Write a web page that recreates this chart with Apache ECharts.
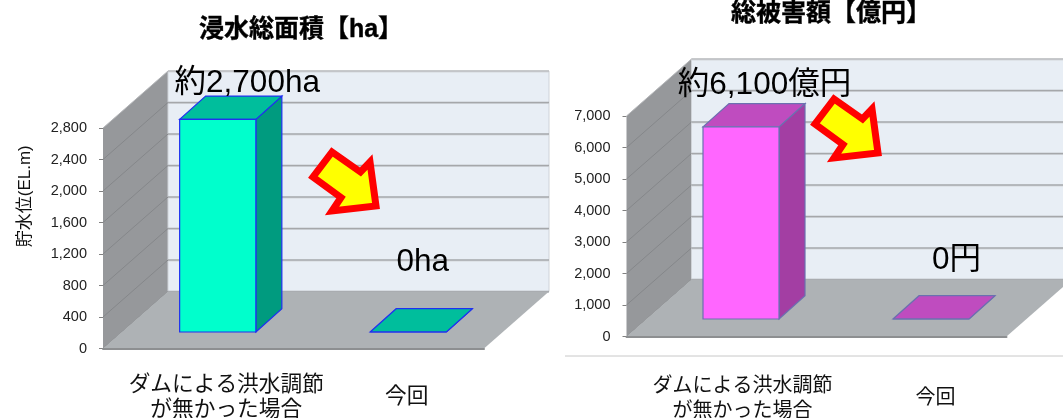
<!DOCTYPE html>
<html><head><meta charset="utf-8">
<style>html,body{margin:0;padding:0;background:#fff}#c{width:1063px;height:418px}</style>
<script src="https://cdn.jsdelivr.net/npm/echarts@6/dist/echarts.min.js"></script>
</head><body><div id="c"></div>
<script>
const categories = ['ダムによる洪水調節\nが無かった場合', '今回'];
const areaValues = [2700, 0];
const damageValues = [6100, 0];
const areaTicks = [0, 400, 800, 1200, 1600, 2000, 2400, 2800];
const damageTicks = [0, 1000, 2000, 3000, 4000, 5000, 6000, 7000];
const areaLabels = ['約2,700ha', '0ha'];
const damageLabels = ['約6,100億円', '0円'];
const areaTitle = '浸水総面積【ha】';
const damageTitle = '総被害額【億円】';
const yAxisName = '貯水位(EL.m)';

const FONT = '"Liberation Sans","Noto Sans CJK JP",sans-serif';
const WALL = {dx: 65, dy: -57}, BAR = {dx: 26, dy: -23.3}, OFFSET_X = 19.5;
const chart = echarts.init(document.getElementById('c'), null, {renderer: 'canvas'});
const pts = a => a.map(p => [p[0], p[1]]);

function poly(points, fill, stroke, lw) {
  return {type: 'polygon', shape: {points: pts(points)}, style: {fill, stroke: stroke || null, lineWidth: lw || 0, lineJoin: 'miter'}};
}

const wallsItem = (params) => {
  const c = params.coordSys, x0 = c.x, x1 = c.x + c.width, yT = c.y, yB = c.y + c.height;
  const d = WALL;
  return {type: 'group', children: [
    poly([[x0, yB], [x0 + d.dx, yB + d.dy], [x0 + d.dx, yT + d.dy], [x0, yT]], '#96989b'),
    poly([[x0 + d.dx, yB + d.dy], [x1 + d.dx, yB + d.dy], [x1 + d.dx, yT + d.dy], [x0 + d.dx, yT + d.dy]], '#e8eef5', '#cfd3d8', 1)
  ]};
};
const c_max = (params) => params.seriesName === 'grid0' ? areaTicks[areaTicks.length - 1] : damageTicks[damageTicks.length - 1];
const gridItem = (params, api) => {
  const c = params.coordSys, v = api.value(1), y = api.coord([0, v])[1];
  const x0 = c.x, x1 = c.x + c.width, d = WALL;
  const top = v === c_max(params);
  return {type: 'group', children: [
    {type: 'line', shape: {x1: x0, y1: y, x2: x0 + d.dx, y2: y + d.dy}, style: {stroke: top ? '#b4b6b9' : '#85878a', lineWidth: 1}},
    {type: 'line', shape: {x1: x0 + d.dx, y1: y + d.dy + 1, x2: x1 + d.dx, y2: y + d.dy + 1}, style: {stroke: '#d3d7dc', lineWidth: 1}},
    {type: 'line', shape: {x1: x0 + d.dx, y1: y + d.dy, x2: x1 + d.dx, y2: y + d.dy}, style: {stroke: top ? '#bcbec1' : '#a5a7aa', lineWidth: 1.4}}
  ]};
};
const floorItem = (params) => {
  const c = params.coordSys, x0 = c.x, x1 = c.x + c.width, yB = c.y + c.height, d = WALL;
  return poly([[x0, yB], [x1, yB], [x1 + d.dx, yB + d.dy], [x0 + d.dx, yB + d.dy]], '#aeb2b5');
};
function barItem(colors, stroke, offsetY) {
  return (params, api) => {
    const idx = api.value(0), val = api.value(1);
    const band = api.size([1, 0])[0], w = band / 2.5;
    const cx = api.coord([idx, 0])[0] + OFFSET_X;
    const yB = api.coord([idx, 0])[1] + offsetY, yT = api.coord([idx, val])[1] + offsetY;
    const xL = cx - w / 2, xR = cx + w / 2, b = BAR;
    return {type: 'group', children: [
      poly([[xR, yB], [xR + b.dx, yB + b.dy], [xR + b.dx, yT + b.dy], [xR, yT]], colors.side, stroke, 1.2),
      poly([[xL, yT], [xR, yT], [xR + b.dx, yT + b.dy], [xL + b.dx, yT + b.dy]], colors.top, stroke, 1.2),
      poly([[xL, yB], [xR, yB], [xR, yT], [xL, yT]], colors.front, stroke, 1.2)
    ]};
  };
}
function labelItem(labels, offsets) {
  return (params, api) => {
    const idx = api.value(0), val = api.value(1), p = api.coord([idx, val]);
    return {type: 'text', style: {text: labels[idx], x: p[0] + offsets[idx][0], y: p[1] + offsets[idx][1],
      font: '31.5px ' + FONT, fill: '#000', align: 'center', verticalAlign: 'middle'}};
  };
}

function panel(i, ticks, values, labels, offsets, colors, stroke, offsetY) {
  const common = {type: 'custom', xAxisIndex: i, yAxisIndex: i, silent: true, animation: false, clip: false, encode: {x: 0, y: 1}};
  return [
    {...common, name: 'walls' + i, z: 1, data: [[0, 0]], renderItem: wallsItem},
    {...common, name: 'grid' + i, z: 2, data: ticks.map(t => [0, t]), renderItem: gridItem},
    {...common, name: 'floor' + i, z: 3, data: [[0, 0]], renderItem: floorItem},
    {...common, name: 'bars' + i, z: 4, data: values.map((v, k) => [k, v]), renderItem: barItem(colors, stroke, offsetY)},
    {...common, name: 'labels' + i, z: 8, data: values.map((v, k) => [k, v]), renderItem: labelItem(labels, offsets)}
  ];
}
function xAxis(i, shifts, margin, size) {
  return {type: 'category', gridIndex: i, z: 5,
    data: categories.map((c, k) => ({value: c, textStyle: {padding: shifts[k]}})),
    axisTick: {show: false}, axisLine: {lineStyle: {color: '#8d8f91', width: 2}},
    axisLabel: {interval: 0, margin, fontFamily: FONT, fontSize: size, color: '#111', lineHeight: 25, verticalAlign: 'top'}};
}
function yAxis(i, ticks, name) {
  return {type: 'value', gridIndex: i, min: ticks[0], max: ticks[ticks.length - 1], interval: ticks[1] - ticks[0],
    name, nameLocation: 'middle', nameGap: 69, nameTextStyle: {fontFamily: FONT, fontSize: 17, color: '#111', padding: [0, 0, 0, 84]},
    splitLine: {show: false}, axisLine: {show: false},
    axisTick: {show: true, length: 4, lineStyle: {color: '#808080'}},
    axisLabel: {margin: 16, fontFamily: FONT, fontSize: 14.5, color: '#222',
      formatter: v => v.toLocaleString('en-US')}};
}

const arrowPts = [[332, 152], [313, 177], [341, 197.5], [332, 211], [376, 206], [370, 162], [360.5, 172]];
const arrow = (tx, ty) => ({type: 'polygon', x: tx, y: ty, z: 20, silent: true, shape: {points: arrowPts},
  style: {fill: '#ffff00', stroke: '#ff0000', lineWidth: 7, lineJoin: 'miter', miterLimit: 10}});
const titleStyle = {fontFamily: FONT, fontSize: 25, fontWeight: 'bold', color: '#000', textBorderColor: '#000', textBorderWidth: 0.4};

chart.setOption({
  animation: false,
  backgroundColor: '#fff',
  title: [
    {text: areaTitle, left: 296, top: 13, textAlign: 'center', textStyle: titleStyle},
    {text: damageTitle, left: 826, top: -3, textAlign: 'center', textStyle: titleStyle}
  ],
  grid: [
    {left: 103, width: 381, top: 128, height: 220.5, outerBoundsMode: 'none'},
    {left: 626.5, width: 380, top: 116, height: 220.5, outerBoundsMode: 'none'}
  ],
  xAxis: [
    xAxis(0, [[0, 0, 0, 56], [12, 0, 0, 36]], 24, 21.7),
    xAxis(1, [[0, 0, 0, 42], [12, 0, 0, 48]], 37, 20)
  ],
  yAxis: [yAxis(0, areaTicks, yAxisName), yAxis(1, damageTicks, '')],
  series: [
    ...panel(0, areaTicks, areaValues, areaLabels, [[49, -53], [34, -86.5]],
      {front: '#00ffcc', top: '#00be9c', side: '#009b7f'}, '#2030f0', -16.5),
    ...panel(1, damageTicks, damageValues, damageLabels, [[43, -59.5], [45, -76]],
      {front: '#ff66ff', top: '#bf4cbf', side: '#a33ea3'}, '#6b70b0', -17.5)
  ],
  graphic: [
    arrow(0, 0),
    arrow(502, -53),
    {type: 'line', z: 0, silent: true, shape: {x1: 565, y1: 356, x2: 1063, y2: 356}, style: {stroke: '#c8c8c8', lineWidth: 1}}
  ]
});
</script></body></html>
